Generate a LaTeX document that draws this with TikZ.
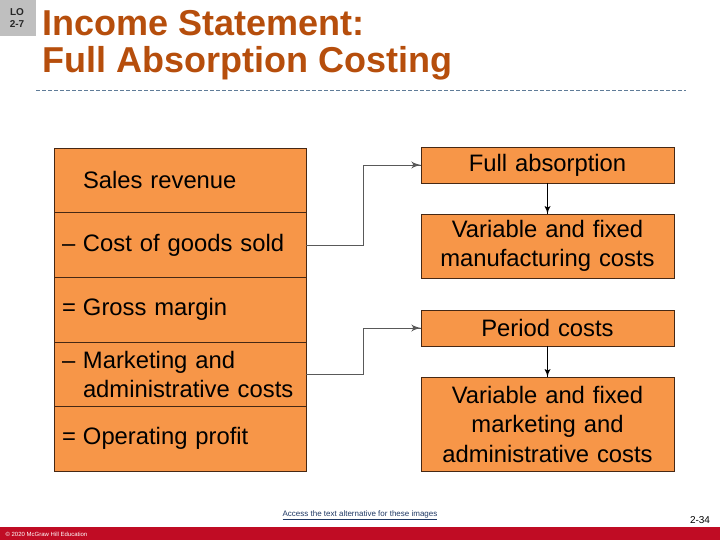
\documentclass[tikz,border=0pt]{standalone}
\usepackage{fontspec}
\setmainfont{Liberation Sans}
\usepackage{tikz}
\usetikzlibrary{arrows}
\usetikzlibrary{decorations.markings}
\usetikzlibrary{positioning}
\definecolor{boxorange}{RGB}{247,150,72}
\definecolor{boxline}{RGB}{70,40,20}
\definecolor{titlebrown}{RGB}{182,78,12}
\definecolor{rulegray}{RGB}{96,124,152}
\definecolor{footred}{RGB}{192,12,36}
\definecolor{linkblue}{RGB}{31,56,100}
\tikzset{arr/.style = {decoration={markings,
                                   mark=at position 1 with {\arrow[scale=2]{latex'}}},
                       postaction={decorate}}}
\tikzset{row/.style = {draw=boxline, fill=boxorange, outer sep=0, inner xsep=8,
                       minimum width=252, minimum height=64.6, text width=236,
                       align=left, font=\fontsize{23.8}{29}\selectfont}}
\tikzset{costbox/.style = {draw=boxline, line width=0.8, fill=boxorange, outer sep=0,
                           minimum width=253, text width=245, align=center,
                           anchor=north west, font=\fontsize{23.8}{29.5}\selectfont}}
\tikzset{conn/.style = {draw=black!65, line width=0.7}}
\newcommand{\pre}[1]{\makebox[21pt][l]{#1}}

\begin{document}
\begin{tikzpicture}[x=1pt, y=-1pt]
    \useasboundingbox (0, 0) rectangle (720, 540);

    % heading
    \fill [black!25] (0, 0) rectangle (36, 36);
    \node [font=\bfseries\fontsize{10}{12}\selectfont, align=center, text=black!85] (lo) at (17, 18) {LO\\2-7};
    \node [anchor=base west, inner sep=0, text=titlebrown, font=\bfseries\fontsize{36}{40}\selectfont] (title1) at (42, 36) {Income Statement:};
    \node [anchor=base west, inner sep=0, text=titlebrown, font=\bfseries\fontsize{36}{40}\selectfont] (title2) at (42, 73) {Full Absorption Costing};
    \draw [rulegray, dash pattern=on 4pt off 2pt] (36, 90) -- (686, 90);

    % income statement
    \node [row, anchor=north west] (sales) at (54, 148) {\pre{}Sales revenue};
    \node [row, below=0 of sales] (cogs) {\pre{--}Cost of goods sold};
    \node [row, below=0 of cogs] (gross) {\pre{=}Gross margin};
    \node [row, below=0 of gross] (mkt) {\pre{--}Marketing and\\\pre{}administrative costs};
    \node [row, below=0 of mkt] (op) {\pre{=}Operating profit};

    % cost boxes
    \node [costbox, minimum height=36] (full) at (421, 147) {Full absorption};
    \node [costbox, minimum height=64] (manuf) at (421, 214) {Variable and fixed\\manufacturing costs};
    \node [costbox, minimum height=36] (period) at (421, 310) {Period costs};
    \node [costbox, minimum height=94] (admin) at (421, 377) {Variable and fixed\\marketing and\\administrative costs};

    \draw [conn, arr] (cogs.east) -- ++(57, 0) |- (full.west);
    \draw [conn, arr] (mkt.east) -- ++(57, 0) |- (period.west);
    \draw [black, arr] (full.south) -- (manuf.north);
    \draw [black, arr] (period.south) -- (admin.north);

    % footer
    \fill [footred] (0, 527) rectangle (720, 540);
    \node [anchor=west, text=white, font=\fontsize{6}{7}\selectfont] (copy) at (2, 534) {\textcopyright\ 2020 McGraw Hill Education};
    \node [text=linkblue, font=\fontsize{8}{9}\selectfont] (link) at (360, 515) {\underline{Access the text alternative for these images}};
    \node [font=\fontsize{10}{12}\selectfont] (page) at (700, 520) {2-34};
  \end{tikzpicture}
\end{document}
